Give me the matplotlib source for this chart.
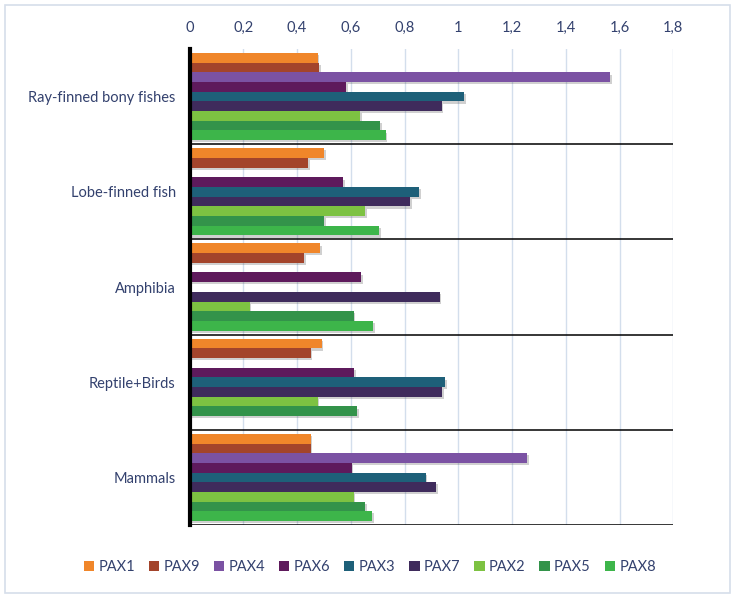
import matplotlib
matplotlib.use("Agg")
import matplotlib.pyplot as plt
import matplotlib.patheffects as pe
from matplotlib.patches import Rectangle, Patch
import numpy as np

categories = ["Ray-finned bony fishes", "Lobe-finned fish", "Amphibia", "Reptile+Birds", "Mammals"]
series_names = ["PAX1", "PAX9", "PAX4", "PAX6", "PAX3", "PAX7", "PAX2", "PAX5", "PAX8"]
colors = ["#F0862A", "#A3442B", "#7B52A3", "#5E1A5C", "#1E6079", "#3F2B5C", "#7DC242", "#33934A", "#3DB54A"]

PAX1 = [0.477, 0.501, 0.487, 0.492, 0.451]
PAX9 = [0.482, 0.441, 0.426, 0.451, 0.451]
PAX4 = [1.565, 0.0, 0.0, 0.0, 1.256]
PAX6 = [0.582, 0.572, 0.639, 0.613, 0.603]
PAX3 = [1.022, 0.855, 0.0, 0.952, 0.878]
PAX7 = [0.938, 0.820, 0.931, 0.940, 0.917]
PAX2 = [0.634, 0.654, 0.224, 0.477, 0.610]
PAX5 = [0.710, 0.501, 0.610, 0.623, 0.654]
PAX8 = [0.730, 0.705, 0.684, 0.0, 0.679]
series = [PAX1, PAX9, PAX4, PAX6, PAX3, PAX7, PAX2, PAX5, PAX8]

xticks = [0, 0.2, 0.4, 0.6, 0.8, 1.0, 1.2, 1.4, 1.6, 1.8]
xticklabels = ["0", "0,2", "0,4", "0,6", "0,8", "1", "1,2", "1,4", "1,6", "1,8"]

plt.rcParams['font.family'] = ['Lato', 'DejaVu Sans']
text_color = "#33416E"

fig = plt.figure(figsize=(7.35, 5.99), dpi=100)
fig.patch.set_facecolor("white")
# outer border
fig.add_artist(Rectangle((5/735, 6/599), 725/735, 588/599, transform=fig.transFigure,
                         fill=False, edgecolor="#D6DEEA", linewidth=1.2))

ax = fig.add_axes([189.6/735, (599-525)/599, (673.3-189.6)/735, (525-49)/599])
n = len(series)
group = 0.915
h = group / n
ypos = np.arange(len(categories))
shadow = [pe.SimplePatchShadow(offset=(1.2, -1.6), alpha=0.25, shadow_rgbFace="#444444"), pe.Normal()]
for i, (vals, c, name) in enumerate(zip(series, colors, series_names)):
    offs = -group/2 + h*(i + 0.5)
    bars = ax.barh(ypos + offs, vals, height=h, color=c, label=name, zorder=3)
    for b in bars:
        if b.get_width() > 0:
            b.set_path_effects(shadow)

ax.set_ylim(len(categories) - 0.5, -0.5)
ax.set_xlim(0, 1.8)
ax.set_yticks(ypos)
ax.set_yticklabels(categories, color=text_color, fontsize=10.5)
ax.set_xticks(xticks)
ax.set_xticklabels(xticklabels, color=text_color, fontsize=10.5)
ax.xaxis.tick_top()
ax.tick_params(axis='both', length=0, pad=10)
ax.tick_params(axis='y', pad=10)
ax.grid(axis='x', color="#D3DEEC", linewidth=1, zorder=0)
for s in ["top", "right", "bottom"]:
    ax.spines[s].set_visible(False)
ax.spines["left"].set_linewidth(3)
ax.spines["left"].set_color("black")
ax.spines["left"].set_zorder(5)
for k in range(1, len(categories) + 1):
    ax.axhline(k - 0.5, color="black", linewidth=1.1, zorder=4)

handles = [Patch(facecolor=c, edgecolor='none') for c in colors]
fig.legend(handles, series_names, loc="center", bbox_to_anchor=(370/735, (599-567)/599), ncol=9,
           frameon=False, fontsize=10.5, handlelength=0.7, handleheight=0.7, handletextpad=0.3,
           columnspacing=0.95, labelcolor=text_color)

fig.savefig("out.png", dpi=100)
